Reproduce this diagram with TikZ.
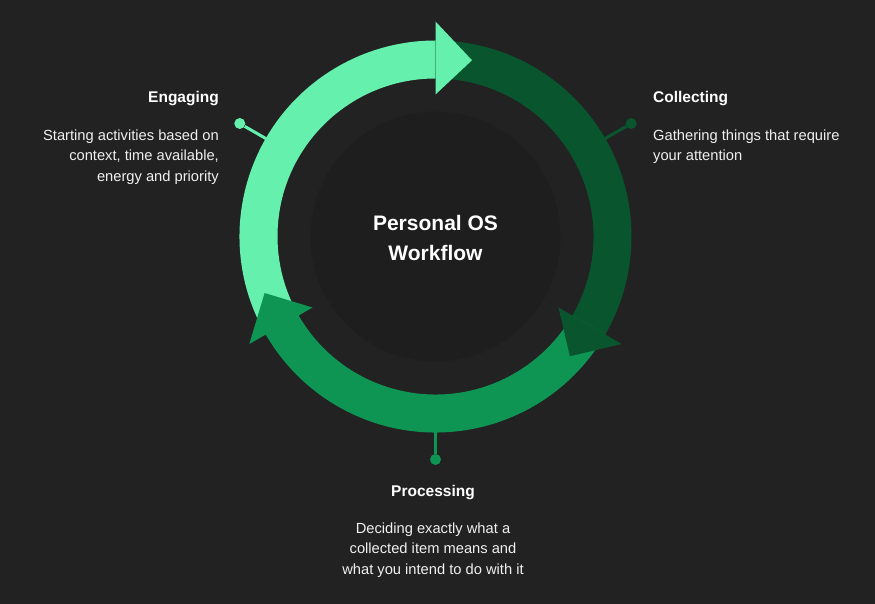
\documentclass[tikz,border=0pt]{standalone}
\usepackage{fontspec}
\setmainfont{Liberation Sans}
\usetikzlibrary{calc}
\definecolor{bg}{HTML}{222222}
\definecolor{innerbg}{HTML}{1E1E1E}
\definecolor{gLight}{HTML}{66F0AE}
\definecolor{gDark}{HTML}{08552E}
\definecolor{gMid}{HTML}{0E9553}
\definecolor{txt}{HTML}{F0F0F0}
\newcommand\ringBody[3]{%
  \fill[#1] ($(C)+(#2:196)$) arc[start angle=#2,end angle=#3,radius=196]
    -- ($(C)+(#3:158)$) arc[start angle=#3,end angle=#2,radius=158] -- cycle;}
\newcommand\ringHead[2]{%
  \fill[#1] ($(C)+(#2:142)$) -- ($(C)+(#2:215)$) -- ($(C)+({#2-11.7}:180)$) -- cycle;}
\tikzset{
  dotnode/.style={circle, inner sep=0pt, minimum size=11pt},
  link/.style={line width=3pt},
  titletext/.style={text=white, inner sep=0pt, font=\bfseries\fontsize{15.5}{19}\selectfont},
  bodytext/.style={text=txt, inner sep=0pt, font=\fontsize{14.7}{20.5}\selectfont},
  centertext/.style={text=white, inner sep=0pt, align=center, font=\bfseries\fontsize{21}{30}\selectfont}
}
\begin{document}
\begin{tikzpicture}[x=1pt,y=1pt]
\fill[bg] (0,0) rectangle (875,-604);
\useasboundingbox (0,0) rectangle (875,-604);
\coordinate (C) at (435.5,-236.5);
\fill[innerbg] (C) circle[radius=125];
% connectors
\coordinate (rE) at ($(C)+(150:190)$);
\coordinate (rC) at ($(C)+(30:190)$);
\coordinate (rP) at ($(C)+(-90:190)$);
\node[dotnode, fill=gLight] (dE) at ($(C)+(150:226)$) {};
\node[dotnode, fill=gDark] (dC) at ($(C)+(30:226)$) {};
\node[dotnode, fill=gMid] (dP) at ($(C)+(-90:223)$) {};
\draw[link, gLight] (rE) -- (dE);
\draw[link, gDark] (rC) -- (dC);
\draw[link, gMid] (rP) -- (dP);
% ring bodies
\ringBody{gLight}{210}{90}
\ringBody{gDark}{90}{-30}
\ringBody{gMid}{-30}{-150}
% heads
\ringHead{gLight}{90}
\ringHead{gDark}{-30}
\ringHead{gMid}{210}
% center
\node[centertext, anchor=north] (center) at (435.5,-215.5) {Personal OS\\Workflow};
% Engaging
\node[titletext, anchor=base east] (tE) at (219,-103) {Engaging};
\node[bodytext, anchor=north east, align=right] (bE) at (219,-129.5) {Starting activities based on\\context, time available,\\energy and priority};
% Collecting
\node[titletext, anchor=base west] (tC) at (653,-103) {Collecting};
\node[bodytext, anchor=north west, align=left] (bC) at (653,-129.5) {Gathering things that require\\your attention};
% Processing
\node[titletext, anchor=base] (tP) at (433,-496) {Processing};
\node[bodytext, anchor=north, align=center] (bP) at (433,-522.5) {Deciding exactly what a\\collected item means and\\what you intend to do with it};
\end{tikzpicture}
\end{document}
